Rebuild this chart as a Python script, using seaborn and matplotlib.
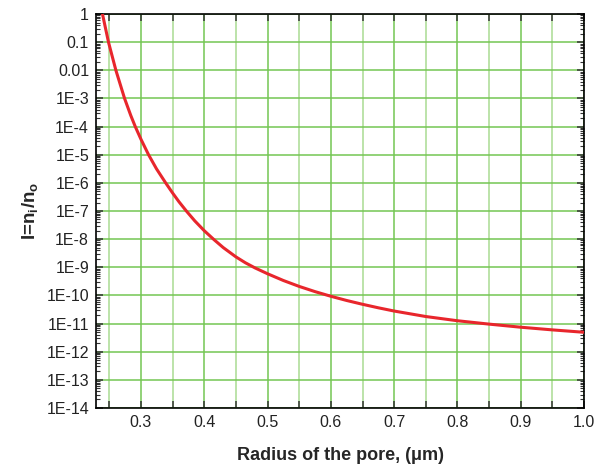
import numpy as np
import pandas as pd
import matplotlib
matplotlib.use('Agg')
import matplotlib.pyplot as plt
import matplotlib.ticker as mticker
import seaborn as sns

# values (radius in um, log10 of I)
radius = [0.2392, 0.2487, 0.2604, 0.2741, 0.284, 0.291, 0.300, 0.312, 0.3245, 0.339,
          0.350, 0.360, 0.3717, 0.385, 0.400, 0.415, 0.430, 0.450, 0.465, 0.480,
          0.500, 0.525, 0.550, 0.575, 0.600, 0.625, 0.650, 0.675, 0.700, 0.750,
          0.800, 0.850, 0.900, 0.950, 1.000]
log_I = [0.0, -1.0, -2.0, -3.0, -3.61, -4.0, -4.45, -5.0, -5.5, -6.0,
         -6.36, -6.67, -7.0, -7.35, -7.7, -8.01, -8.3, -8.63, -8.84, -9.02,
         -9.23, -9.47, -9.68, -9.865, -10.03, -10.18, -10.315, -10.44, -10.555, -10.75,
         -10.9, -11.02, -11.13, -11.225, -11.31]

y_labels = ['1', '0.1', '0.01'] + ['1E-%d' % k for k in range(3, 15)]
x_labels = ['0.3', '0.4', '0.5', '0.6', '0.7', '0.8', '0.9', '1.0']

df = pd.DataFrame({'r': radius, 'I': [10.0 ** v for v in log_I]})

sns.set_style('white')
plt.rcParams['font.family'] = ['Liberation Sans', 'DejaVu Sans']

fig = plt.figure(figsize=(6.04, 4.70), dpi=100)
ax = fig.add_axes([0.159, 0.132, 0.808, 0.838])

sns.lineplot(data=df, x='r', y='I', color='#e8262c', linewidth=2.2, ax=ax, zorder=5)

ax.set_yscale('log')
ax.set_xlim(0.229, 1.0)
ax.set_ylim(1e-14, 1)

# grid
ax.set_xticks(np.arange(0.3, 1.001, 0.1))
ax.set_xticklabels(x_labels)
ax.set_xticks(np.arange(0.25, 1.0, 0.1), minor=True)
ax.set_yticks([10.0 ** -k for k in range(15)])
ax.set_yticklabels(y_labels)
ax.yaxis.set_minor_locator(mticker.LogLocator(base=10, subs=np.arange(2, 10), numticks=100))
ax.yaxis.set_minor_formatter(mticker.NullFormatter())

ax.grid(True, which='major', axis='both', color='#74c653', linewidth=1.1)
ax.grid(True, which='minor', axis='x', color='#a9db92', linewidth=1.1)
ax.set_axisbelow(True)

ax.tick_params(which='both', direction='in', top=True, right=True, left=True, bottom=True,
               color='#333333')
ax.tick_params(which='major', length=5, width=1.1, labelsize=11.5, pad=5, labelcolor='#222222')
ax.tick_params(which='minor', length=3, width=0.8)
ax.tick_params(axis='x', which='minor', length=5, width=1.1)

for s in ax.spines.values():
    s.set_color('black')
    s.set_linewidth(1.2)

ax.set_xlabel('Radius of the pore, (\u03bcm)', fontsize=13, fontweight='bold', labelpad=12)
ax.set_ylabel('I=n$_\\mathregular{i}$/n$_\\mathregular{o}$', fontsize=13.5, fontweight='bold', labelpad=4)

fig.savefig('out.png', dpi=100)
